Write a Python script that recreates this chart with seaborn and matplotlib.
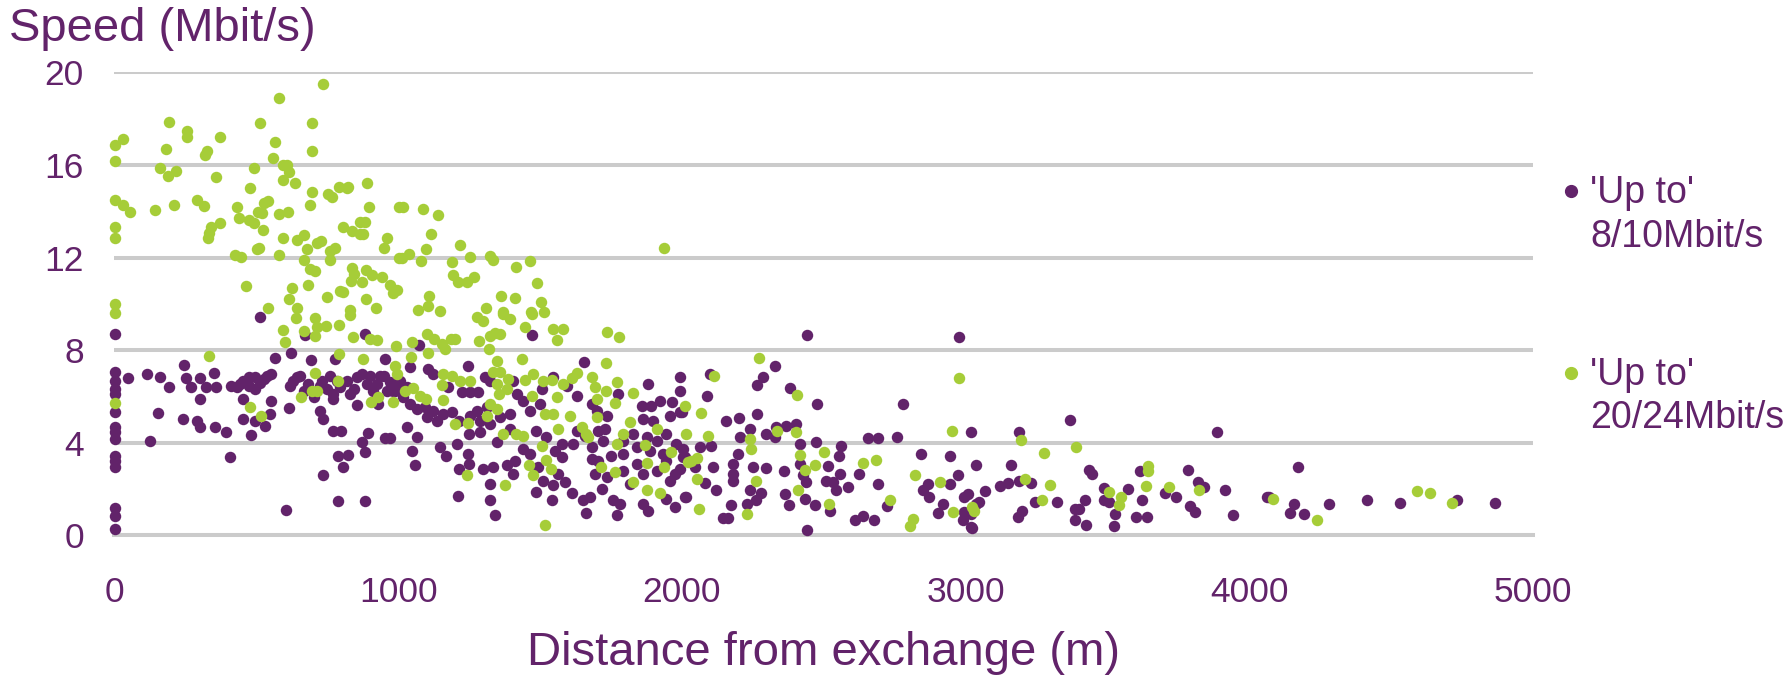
import matplotlib
matplotlib.use("Agg")
import matplotlib.pyplot as plt
from matplotlib.lines import Line2D
import seaborn as sns
import pandas as pd

# ---------------- data ----------------
series_names = ["'Up to'\n8/10Mbit/s", "'Up to'\n20/24Mbit/s"]
x_ticks = [0, 1000, 2000, 3000, 4000, 5000]
y_ticks = [0, 4, 8, 12, 16, 20]

purple_pts = [
    (1,8.69),(514,9.44),(673,8.65),(884,8.7),(567,7.66),(622,7.86),(692,7.59),(778,7.6),(954,7.6),(244,7.37),
    (1,7.04),(1,6.68),(1,6.32),(1,6.1),(48,6.8),(115,6.97),(162,6.83),(191,6.42),(253,6.78),(270,6.42),
    (303,6.8),(324,6.42),(350,7.0),(358,6.43),(303,5.89),(411,6.47),(432,6.4),(455,6.68),(473,6.47),(496,6.85),
    (496,6.32),(526,6.75),(552,6.97),(455,5.89),(552,5.82),(547,5.24),(616,5.5),(1,5.32),(1,4.67),(1,4.45),
    (1,4.17),(153,5.28),(241,5.01),(291,4.93),(303,4.67),(356,4.7),(394,4.48),(455,5.01),(496,4.93),(532,4.71),
    (482,4.35),(124,4.09),(631,6.68),(655,6.9),(620,6.47),(684,6.54),(725,6.47),(749,6.32),(772,6.1),(772,5.89),
    (796,6.4),(819,6.68),(843,6.32),(872,6.97),(890,6.54),(913,6.25),(937,6.9),(972,6.61),(983,6.25),(854,5.65),
    (931,5.68),(725,5.36),(735,5.01),(772,4.5),(798,4.52),(895,4.44),(872,4.02),(884,3.62),(954,4.21),(970,4.21),
    (1,3.45),(1,3.23),(1,2.97),(406,3.38),(790,3.45),(825,3.47),(807,2.94),(735,2.61),(790,1.47),(884,1.47),
    (606,1.11),(1,1.19),(1,0.82),(1,0.29),
    (444,6.54),(473,6.83),(514,6.6),(537,6.9),(643,6.83),(669,6.25),(704,5.96),(731,6.68),(760,6.9),(784,6.68),
    (831,6.1),(854,6.83),(901,6.9),(925,6.54),(960,6.25),(949,6.9),
    (1471,8.65),(1072,8.22),(1245,7.33),(1656,7.5),(1993,6.85),(1993,6.25),(1881,6.54),(1007,6.68),(1030,6.4),(989,6.25),
    (1042,7.26),(1104,7.18),(1124,6.97),(1177,6.4),(1224,6.18),(1253,6.18),(1283,6.18),(1306,6.83),(1324,6.68),(1406,6.68),
    (1418,6.1),(1440,5.82),(1465,5.39),(1500,5.67),(1506,6.32),(1547,6.83),(1594,6.47),(1629,6.03),(1682,5.67),(1701,5.39),
    (1735,5.17),(1776,6.1),(1858,5.6),(1893,5.6),(1922,5.82),(1964,5.75),(1958,5.17),(1993,5.31),(1864,5.02),(1899,4.95),
    (1042,5.67),(1065,5.46),(1094,5.53),(1124,5.39),(1160,5.24),(1189,5.31),(1213,4.96),(1253,5.17),(1288,4.96),(1324,4.81),
    (1030,4.67),(1065,4.24),(1048,3.66),(1060,3.06),(1148,3.81),(1168,3.45),(1207,3.95),(1245,3.52),(1251,3.09),(1213,2.87),
    (1251,4.38),(1288,4.45),(1347,4.02),(1300,2.87),(1336,2.94),(1383,3.02),(1412,3.23),(1406,2.66),(1440,3.73),(1486,4.52),
    (1520,4.24),(1553,3.66),(1576,3.95),(1576,3.37),(1494,2.94),(1512,2.37),(1547,2.16),(1588,2.3),(1612,1.82),(1486,1.87),
    (1541,1.51),(1324,2.23),(1324,1.54),(1343,0.89),(1210,1.72),(1629,4.52),(1658,4.31),(1705,4.52),(1728,4.6),(1682,3.81),
    (1682,3.3),(1705,3.23),(1752,3.45),(1794,4.09),(1829,4.38),(1841,3.81),(1876,4.24),(1911,4.09),(1946,4.38),(1981,3.95),
    (2004,3.73),(1694,2.66),(1735,2.52),(1794,2.8),(1817,2.23),(1864,2.66),(1911,2.8),(1958,2.37),(1975,2.66),(1717,2.01),
    (1652,1.51),(1675,1.65),(1664,0.96),(1758,1.51),(1782,1.36),(1770,0.89),(1864,1.36),(1881,1.07),(1946,1.59),(1975,1.23),
    (2010,1.65),(2004,3.37),(1394,4.6),(1465,3.52),(1565,2.66),
    (995,6.47),(1019,5.96),(1101,5.1),(1136,4.96),(1277,5.39),(1312,5.53),(1359,5.1),(1394,5.24),(1617,3.95),(1723,4.09),
    (1794,3.52),(1887,3.66),(1934,3.52),(1841,3.09),(1946,3.23),
    (2441,8.66),(2976,8.55),(2330,7.33),(2101,6.97),(2286,6.85),(2266,6.51),(2380,6.37),(2087,6.03),(2476,5.67),(2779,5.67),
    (1999,5.32),(2264,5.24),(2157,4.93),(2201,5.07),(2239,4.6),(2204,4.24),(2296,4.38),(2333,4.67),(2368,4.74),(2404,4.81),
    (2327,4.24),(2415,3.95),(2474,4.05),(2562,3.88),(2554,3.45),(2656,4.21),(2691,4.21),(2758,4.24),(3020,4.45),(2844,3.52),
    (2944,3.41),(3038,3.02),(2011,3.38),(2063,3.81),(2104,3.85),(1993,2.87),(2046,2.94),(2110,2.94),(2180,3.09),(2198,3.52),
    (2180,2.66),(2180,2.37),(2250,2.94),(2296,2.91),(2359,2.77),(2415,3.09),(2427,2.59),(2439,2.3),(2515,2.98),(2509,2.37),
    (2532,2.3),(2556,2.66),(2544,1.95),(2585,2.09),(2626,2.66),(2691,2.2),(2080,2.25),(2016,1.65),(2120,1.95),(2239,1.95),
    (2280,1.82),(2263,1.51),(2228,1.36),(2174,1.33),(2145,0.76),(2163,0.76),(2362,1.77),(2379,1.33),(2433,1.59),(2468,1.33),
    (2521,1.07),(2609,0.65),(2638,0.86),(2679,0.67),(2723,1.28),(2441,0.22),(2850,1.95),(2872,1.65),(2867,2.23),(2920,1.36),
    (2902,0.96),(2944,2.23),(2973,2.59),(2996,1.65),(3008,1.8),(2996,1.02),(3020,0.37),(3038,1.36),(2991,0.65),
    (3188,4.48),(3368,4.99),(3885,4.48),(3161,3.06),(3069,1.9),(3049,1.44),(3020,0.93),(3023,0.33),(3122,2.13),(3151,2.25),
    (3187,2.37),(3231,2.25),(3243,1.44),(3321,1.44),(3200,1.07),(3185,0.78),(3384,1.15),(3401,1.15),(3384,0.67),(3425,0.43),
    (3422,1.51),(3434,2.84),(3446,2.66),(3489,2.05),(3489,1.51),(3507,1.44),(3528,0.93),(3524,0.39),(3574,2.01),(3621,1.55),
    (3601,0.78),(3640,0.81),(3613,2.77),(3704,1.82),(3742,1.68),(3783,2.84),(3791,1.26),(3810,1.0),(3818,2.3),(3842,2.11),
    (3915,1.97),(3943,0.89),(4064,1.68),
    (4170,2.94),(4070,1.68),(4158,1.37),(4143,0.98),(4193,0.91),(4282,1.37),(4416,1.51),(4531,1.39),(4731,1.53),(4865,1.39),
]

green_pts = [
    (737,19.5),(579,18.9),(193,17.84),(514,17.8),(696,17.8),(255,17.46),(255,17.2),(30,17.13),(1,16.88),(374,17.2),
    (567,17.0),(183,16.7),(327,16.6),(321,16.45),(697,16.6),(1,16.16),(560,16.3),(594,15.99),(609,16.0),(162,15.85),
    (189,15.52),(219,15.73),(357,15.5),(494,15.85),(617,15.69),(595,15.37),(636,15.23),(478,15.0),(1,14.5),(31,14.25),
    (56,13.98),(144,14.04),(209,14.27),(290,14.5),(315,14.23),(432,14.2),(527,14.37),(543,14.44),(521,13.94),(508,13.98),
    (582,13.87),(611,13.98),(698,14.83),(691,14.25),(752,14.73),(766,14.63),(793,15.04),(825,15.04),(819,15.0),(891,15.2),
    (899,14.18),(1,13.33),(1,12.83),(441,13.69),(473,13.61),(493,13.5),(525,13.18),(374,13.5),(339,13.33),(333,13.07),
    (329,12.83),(596,12.83),(643,12.74),(669,12.97),(716,12.64),(728,12.7),(678,12.36),(510,12.4),(503,12.36),(579,12.11),
    (425,12.1),(445,12.03),(670,11.9),(688,11.49),(708,11.43),(759,12.28),(778,12.42),(759,11.9),(807,13.33),(837,13.15),
    (866,13.55),(884,13.55),(867,13.03),(878,13.0),(962,12.83),(949,12.4),(1005,14.2),(1005,12.0),(837,11.54),(843,11.28),
    (834,10.99),(872,10.96),(886,11.46),(908,11.25),(944,11.15),(973,10.82),(981,10.45),(465,10.78),(626,10.7),(617,10.23),
    (682,10.82),(750,10.29),(796,10.55),(805,10.5),(886,10.2),(1,10.01),(543,9.81),(643,9.84),(830,9.73),(922,9.84),
    (1019,14.19),(1087,14.11),(1142,13.82),(1116,13.03),(1219,12.54),(1099,12.36),(1040,12.17),(1014,11.97),(1080,11.85),(1190,11.83),
    (1253,12.04),(1324,12.06),(1335,11.88),(1414,11.61),(1465,11.85),(1937,12.4),(1195,11.25),(1210,10.96),(1244,10.96),(1268,11.15),
    (1491,10.9),(995,10.6),(1108,10.34),(1104,9.91),(1362,10.33),(1412,10.25),(1503,10.1),(1309,9.81),(1071,9.73),(1148,9.7),
    (1370,9.67),(1470,9.67),(1515,9.63),
    (1,9.6),(641,9.38),(708,9.4),(714,8.98),(746,9.05),(708,8.62),(669,8.81),(596,8.88),(600,8.36),(793,9.08),
    (829,9.53),(840,8.59),(901,8.5),(925,8.45),(993,8.19),(332,7.73),(793,7.83),(878,7.64),(989,7.33),(708,7.0),
    (790,6.68),(996,6.97),(1,5.72),(658,5.99),(696,6.22),(716,6.22),(479,5.56),(516,5.17),(904,5.75),(931,5.96),(983,5.75),
    (1277,9.45),(1298,9.27),(1371,9.56),(1394,9.34),(1471,9.58),(1447,8.98),(1547,8.91),(1580,8.91),(1559,8.43),(1738,8.79),
    (1777,8.59),(1101,8.69),(1128,8.48),(1187,8.5),(1200,8.5),(1154,8.26),(1165,8.05),(1048,8.36),(1285,8.4),(1324,8.62),
    (1341,8.76),(1359,8.69),(1322,8.05),(1104,7.86),(1045,7.72),(1350,7.54),(1435,7.6),(1732,7.44),(1160,6.97),(1190,6.9),
    (1218,6.68),(1253,6.68),(1154,6.5),(1336,7.04),(1359,7.04),(1388,6.75),(1348,6.54),(1383,6.32),(1354,6.1),(1447,6.71),
    (1476,6.97),(1512,6.68),(1541,6.72),(1582,6.54),(1612,6.8),(1629,7.0),(1682,6.85),(1770,6.61),(1694,6.4),(1732,6.25),
    (1829,6.14),(1025,6.25),(1054,6.37),(1077,6.03),(1099,5.89),(1160,5.87),(1471,6.03),(1559,5.96),(1701,5.89),(1764,5.7),
    (2010,5.6),(1324,5.67),(1348,5.46),(1312,5.17),(1518,5.24),(1547,5.24),(1605,5.17),(1701,5.1),(1201,4.81),(1247,4.84),
    (1371,4.38),(1416,4.38),(1440,4.31),(1565,4.6),(1647,4.67),(1664,4.38),(1670,4.27),(1817,4.88),(1794,4.4),(1773,3.95),
    (1870,3.91),(1914,4.6),(1506,3.85),(1961,3.59),(1520,3.26),(1540,2.87),(1462,3.06),(1476,2.61),(1242,2.63),(1377,2.18),
    (1715,2.94),(1764,2.73),(1879,3.12),(1937,2.94),(1829,2.3),(1876,1.97),(1923,1.83),(2021,3.16),(1518,0.46),
    (2271,7.66),(2114,6.9),(2976,6.78),(2406,6.06),(2067,5.29),(2016,4.38),(2092,4.31),(2336,4.5),(2404,4.45),(2953,4.52),
    (2239,4.17),(2245,3.74),(2034,3.23),(2054,3.35),(2417,3.48),(2500,3.62),(2471,3.05),(2433,2.83),(2638,3.12),(2685,3.26),
    (2054,2.44),(2263,2.34),(2411,1.97),(2823,2.61),(2911,2.3),(2732,1.51),(2061,1.15),(2230,0.93),(2519,1.36),(2814,0.72),
    (2803,0.41),(2955,1.0),(3023,1.21),(3031,1.07),
    (3196,4.12),(3390,3.81),(3278,3.55),(3642,3.0),(3644,2.8),(3210,2.44),(3299,2.18),(3636,2.13),(3718,2.08),(3823,1.94),
    (3270,1.54),(3507,1.87),(3547,1.65),(3539,1.33),
    (4084,1.58),(4238,0.68),(4590,1.9),(4636,1.84),(4716,1.41),
]

purple_x = [p[0] for p in purple_pts]
purple_y = [p[1] for p in purple_pts]
green_x = [p[0] for p in green_pts]
green_y = [p[1] for p in green_pts]

# ---------------- style ----------------
PURPLE = "#62236A"
GREEN = "#A6CD38"
GRID = "#CBCBCB"

sns.set_style("white")
plt.rcParams["font.family"] = ["Liberation Sans", "DejaVu Sans"]

fig = plt.figure(figsize=(17.92, 6.78), dpi=100)
ax = fig.add_axes([0.0638, 0.2103, 0.7917, 0.6830])

df_p = pd.DataFrame({"x": purple_x, "y": purple_y})
df_g = pd.DataFrame({"x": green_x, "y": green_y})

sns.scatterplot(data=df_p, x="x", y="y", ax=ax, color=PURPLE, s=68,
                linewidth=0, clip_on=False, zorder=3, legend=False)
sns.scatterplot(data=df_g, x="x", y="y", ax=ax, color=GREEN, s=68,
                linewidth=0, clip_on=False, zorder=4, legend=False)

ax.set_xlim(0, 5000)
ax.set_ylim(0, 20)
ax.set_xticks(x_ticks)
ax.set_yticks(y_ticks)
ax.set_xticklabels([str(v) for v in x_ticks])
ax.set_yticklabels([str(v) for v in y_ticks])

ax.yaxis.grid(True, color=GRID, linewidth=2.9)
ax.xaxis.grid(False)
ax.set_axisbelow(True)
for s in ["left", "right", "top"]:
    ax.spines[s].set_visible(False)
ax.spines["bottom"].set_color(GRID)
ax.spines["bottom"].set_linewidth(2.9)
ax.spines["bottom"].set_zorder(1)

ax.tick_params(axis="x", direction="out", length=9, width=2.9, color=GRID,
               labelcolor=PURPLE, labelsize=25.5, pad=20)
ax.tick_params(axis="y", length=0, labelcolor=PURPLE, labelsize=25.5, pad=22)

ax.set_xlabel("Distance from exchange (m)", fontsize=34, color=PURPLE, labelpad=16)
ax.set_ylabel("")

fig.text(9 / 1792, 1 - 40.7 / 678, "Speed (Mbit/s)", fontsize=34, color=PURPLE,
         ha="left", va="baseline")

# ---------------- legend (manual, marker beside first line) ----------------
legend_rows = [
    (PURPLE, 191, 203, 247, series_names[0]),
    (GREEN, 373, 385, 428, series_names[1]),
]
for col, my, b1, b2, name in legend_rows:
    fig.add_artist(Line2D([1571 / 1792], [1 - my / 678], transform=fig.transFigure,
                          marker="o", markersize=8.5, color=col, linestyle=""))
    l1, l2 = name.split("\n")
    fig.text(1590 / 1792, 1 - b1 / 678, l1, fontsize=27, color=PURPLE,
             ha="left", va="baseline")
    fig.text(1590 / 1792, 1 - b2 / 678, l2, fontsize=27, color=PURPLE,
             ha="left", va="baseline")

fig.savefig("out.png", dpi=100)
